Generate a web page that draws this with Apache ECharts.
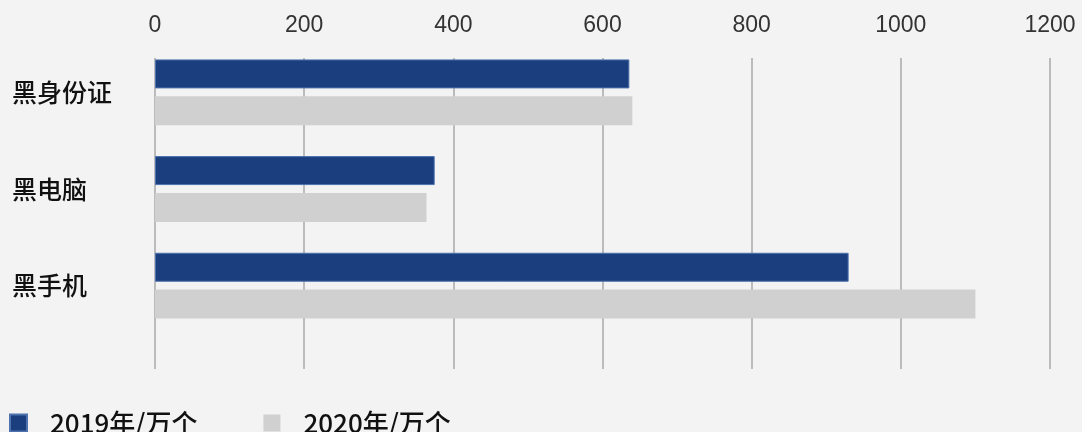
<!DOCTYPE html>
<html>
<head>
<meta charset="utf-8">
<title>黑产品数量</title>
<script src="https://cdn.jsdelivr.net/npm/echarts@6/dist/echarts.min.js"></script>
<style>
  html, body { margin: 0; padding: 0; background: #f3f3f3; }
  #chart { width: 1082px; height: 432px; }
</style>
</head>
<body>
<div id="chart"></div>
<script>
// Categories, listed top to bottom
const categories = ['黑身份证', '黑电脑', '黑手机'];
// Counts in units of 万个
const values2019 = [636, 375, 930];
const values2020 = [640, 364, 1100];
const seriesNames = ['2019年/万个', '2020年/万个'];
// Value axis range and step
const axisMin = 0;
const axisMax = 1200;
const axisStep = 200;

const chart = echarts.init(document.getElementById('chart'), null, { renderer: 'canvas' });

const cjk = '"Noto Sans CJK SC", "Noto Sans", sans-serif';

chart.setOption({
  backgroundColor: '#f3f3f3',
  animation: false,
  legend: {
    left: 4,
    top: 405,
    itemWidth: 17,
    itemHeight: 17,
    itemGap: 66,
    icon: 'rect',
    data: seriesNames,
    textStyle: {
      fontFamily: cjk,
      fontSize: 26,
      fontWeight: 500,
      color: '#111',
      padding: [0, 0, 0, 18]
    }
  },
  grid: [
    // bars
    { left: 155, right: 32, top: 44, height: 290 },
    // vertical gridlines and top tick labels
    { left: 155, right: 32, top: 58, height: 311 }
  ],
  xAxis: [
    {
      gridIndex: 0,
      type: 'value',
      min: axisMin,
      max: axisMax,
      interval: axisStep,
      axisLine: { show: false },
      axisTick: { show: false },
      axisLabel: { show: false },
      splitLine: { show: false }
    },
    {
      gridIndex: 1,
      type: 'value',
      position: 'top',
      min: axisMin,
      max: axisMax,
      interval: axisStep,
      axisLine: { show: false },
      axisTick: { show: false },
      axisLabel: {
        fontFamily: '"Liberation Sans", Arial, sans-serif',
        fontSize: 23,
        color: '#333',
        margin: 21,
        formatter: (v) => String(v)
      },
      splitLine: { show: true, lineStyle: { color: '#a9a9a9', width: 1.5 } }
    }
  ],
  yAxis: [
    {
      gridIndex: 0,
      type: 'category',
      inverse: true,
      data: categories,
      axisLine: { show: false },
      axisTick: { show: false },
      axisLabel: {
        fontFamily: cjk,
        fontSize: 25,
        fontWeight: 500,
        color: '#111',
        align: 'left',
        margin: 143
      }
    },
    {
      gridIndex: 1,
      type: 'value',
      show: false
    }
  ],
  series: [
    {
      name: seriesNames[0],
      type: 'bar',
      xAxisIndex: 0,
      yAxisIndex: 0,
      data: values2019,
      barWidth: 29,
      barGap: '27%',
      itemStyle: { color: '#1b3f7e', borderColor: '#4d72ad', borderWidth: 1 }
    },
    {
      name: seriesNames[1],
      type: 'bar',
      xAxisIndex: 0,
      yAxisIndex: 0,
      data: values2020,
      barWidth: 29,
      barGap: '27%',
      itemStyle: { color: '#d0d0d0' }
    }
  ]
});
</script>
</body>
</html>
